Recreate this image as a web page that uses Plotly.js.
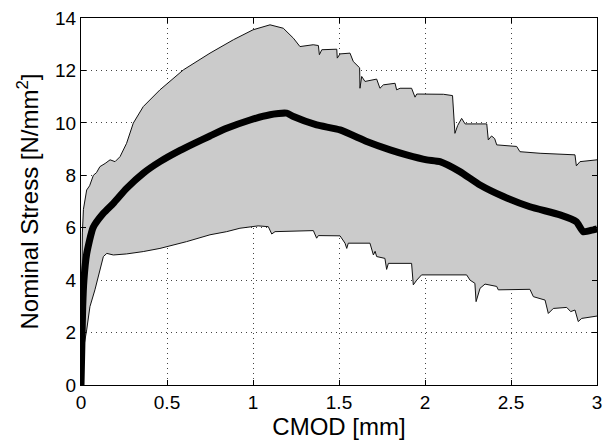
<!DOCTYPE html>
<html>
<head>
<meta charset="utf-8">
<script src="https://cdn.plot.ly/plotly-3.0.1.min.js"></script>
<style>html,body{margin:0;padding:0;background:#fff}#chart{width:603px;height:444px}</style>
</head>
<body>
<div id="chart"></div>
<script>
var upperX = [0, 0.003, 0.008, 0.014, 0.033, 0.05, 0.072, 0.09, 0.11, 0.14, 0.169, 0.198, 0.227, 0.265, 0.304, 0.362, 0.459, 0.595, 0.75, 0.886, 1.0, 1.099, 1.176, 1.235, 1.273, 1.35, 1.38, 1.386, 1.40, 1.487, 1.49, 1.506, 1.564, 1.583, 1.612, 1.62, 1.622, 1.632, 1.651, 1.719, 1.738, 1.758, 1.826, 1.835, 1.855, 1.922, 1.942, 1.952, 2.107, 2.16, 2.174, 2.19, 2.213, 2.233, 2.359, 2.368, 2.387, 2.405, 2.417, 2.533, 2.552, 2.669, 2.872, 2.88, 2.901, 3.0];
var upperY = [0, 4.6, 5.8, 6.7, 7.44, 7.6, 8.0, 8.1, 8.33, 8.45, 8.59, 8.52, 8.71, 9.22, 9.99, 10.62, 11.26, 12.02, 12.66, 13.17, 13.55, 13.74, 13.61, 13.23, 12.91, 12.98, 12.95, 12.6, 12.79, 12.81, 12.47, 12.63, 12.66, 12.34, 12.15, 12.1, 11.32, 11.77, 11.58, 11.67, 11.32, 11.45, 11.51, 11.26, 11.32, 11.32, 10.98, 11.1, 11.09, 11.04, 9.6, 9.9, 10.17, 9.96, 9.96, 9.35, 9.5, 9.4, 9.16, 9.1, 8.9, 8.84, 8.78, 8.36, 8.52, 8.59];

var lowerX = [0, 0.01, 0.02, 0.033, 0.052, 0.081, 0.1, 0.11, 0.13, 0.15, 0.188, 0.265, 0.362, 0.459, 0.614, 0.75, 0.847, 0.924, 1.03, 1.089, 1.109, 1.128, 1.351, 1.37, 1.38, 1.506, 1.535, 1.545, 1.554, 1.68, 1.70, 1.71, 1.719, 1.767, 1.777, 1.787, 1.922, 1.932, 1.952, 1.98, 2.242, 2.262, 2.29, 2.297, 2.32, 2.349, 2.417, 2.426, 2.61, 2.63, 2.698, 2.717, 2.746, 2.824, 2.847, 2.872, 2.891, 2.911, 3.0];
var lowerY = [0, 0.8, 1.6, 2.1, 2.99, 3.63, 4.1, 4.39, 4.9, 5.02, 4.96, 5.0, 5.09, 5.21, 5.47, 5.73, 5.85, 5.98, 6.07, 6.04, 5.76, 5.85, 5.89, 5.6, 5.7, 5.69, 5.41, 5.21, 5.41, 5.41, 4.96, 5.1, 4.9, 4.83, 4.41, 4.64, 4.64, 3.82, 4.0, 4.2, 4.2, 4.0, 3.88, 3.18, 3.69, 3.85, 3.76, 3.63, 3.65, 3.37, 3.24, 2.73, 2.92, 2.96, 2.8, 2.86, 2.42, 2.54, 2.63];

var meanX = [0, 0.005, 0.01, 0.017, 0.033, 0.07, 0.13, 0.188, 0.265, 0.362, 0.459, 0.576, 0.653, 0.75, 0.847, 0.983, 1.099, 1.196, 1.235, 1.37, 1.506, 1.661, 1.797, 1.893, 2.01, 2.087, 2.203, 2.32, 2.456, 2.61, 2.785, 2.88, 2.92, 2.979, 3.0];
var meanY = [0, 1.5, 3.0, 4.0, 5.0, 6.0, 6.55, 6.93, 7.5, 8.08, 8.52, 8.95, 9.2, 9.5, 9.79, 10.11, 10.31, 10.37, 10.24, 9.92, 9.73, 9.29, 8.97, 8.78, 8.59, 8.52, 8.14, 7.63, 7.19, 6.8, 6.49, 6.23, 5.85, 5.92, 5.95];

var xTicks = [0, 0.5, 1, 1.5, 2, 2.5, 3];
var xTickText = ['0', '0.5', '1', '1.5', '2', '2.5', '3'];
var yTicks = [0, 2, 4, 6, 8, 10, 12, 14];

var traces = [
  {x: lowerX, y: lowerY, type: 'scatter', mode: 'lines', line: {color: '#111', width: 1}, hoverinfo: 'none'},
  {x: upperX, y: upperY, type: 'scatter', mode: 'lines', fill: 'tonexty', fillcolor: '#cbcbcb', line: {color: '#111', width: 1}, hoverinfo: 'none'},
  {x: meanX, y: meanY, type: 'scatter', mode: 'lines', line: {color: '#000', width: 7, shape: 'spline', smoothing: 0.5}, hoverinfo: 'none'}
];

var fam = 'Liberation Sans, Arial, sans-serif';
var axFont = {family: fam, size: 19, color: '#000'};
var layout = {
  width: 603, height: 444,
  margin: {l: 81, r: 6, t: 18, b: 59, pad: 0},
  paper_bgcolor: '#fff', plot_bgcolor: '#fff',
  showlegend: false,
  xaxis: {
    range: [0, 3], tickvals: xTicks, ticktext: xTickText,
    ticks: 'inside', ticklen: 5, tickcolor: '#000', mirror: 'ticks',
    showline: true, linecolor: '#000', linewidth: 1,
    showgrid: true, gridcolor: '#444', griddash: '1px,4px', gridwidth: 1,
    zeroline: false, tickfont: axFont, automargin: false,
    title: {text: 'CMOD [mm]', font: {family: fam, size: 24, color: '#000'}, standoff: 1}
  },
  yaxis: {
    range: [0, 14], tickvals: yTicks,
    ticks: 'inside', ticklen: 5, tickcolor: '#000', mirror: 'ticks',
    showline: true, linecolor: '#000', linewidth: 1,
    showgrid: true, gridcolor: '#444', griddash: '1px,4px', gridwidth: 1,
    zeroline: false, tickfont: axFont, automargin: false,
    title: {text: 'Nominal Stress [N/mm<sup>2</sup>]', font: {family: fam, size: 24, color: '#000'}, standoff: 9}
  }
};

Plotly.newPlot('chart', traces, layout, {staticPlot: true, displayModeBar: false});
</script>
</body>
</html>
